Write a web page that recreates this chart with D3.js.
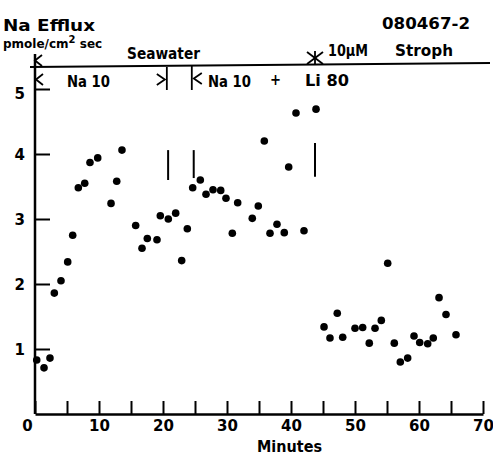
<!DOCTYPE html>
<html>
<head>
<meta charset="utf-8">
<script src="https://cdn.jsdelivr.net/npm/d3@7"></script>
<style>
  body { margin: 0; background: #fff; }
  svg { display: block; }
  text { font-family: "DejaVu Sans", sans-serif; font-weight: bold; fill: #000; }
</style>
</head>
<body>
<div id="chart"></div>
<script>
// Na efflux readings (minutes, pmole/cm2 sec)
const minutes = [0.27, 1.41, 2.34, 3.02, 4.06, 5.11, 5.89, 6.77, 7.77, 8.59, 9.8,
  11.88, 12.77, 13.59, 15.73, 16.72, 17.55, 19.06, 19.58, 20.83, 21.98, 22.92,
  23.8, 24.64, 25.83, 26.72, 27.81, 29.02, 29.84, 30.83, 31.67, 33.95, 34.89,
  35.83, 36.72, 37.81, 38.95, 39.64, 40.78, 42.03, 43.91, 45.16, 46.09, 47.23,
  48.08, 50.0, 51.2, 52.23, 53.13, 54.11, 55.11, 56.14, 57.08, 58.23, 59.22,
  60.11, 61.36, 62.23, 63.13, 64.22, 65.78];
const efflux = [0.83, 0.71, 0.86, 1.86, 2.05, 2.34, 2.75, 3.48, 3.55, 3.87, 3.94,
  3.24, 3.58, 4.06, 2.9, 2.55, 2.7, 2.68, 3.05, 3.0, 3.09, 2.36,
  2.85, 3.48, 3.6, 3.38, 3.45, 3.44, 3.32, 2.78, 3.25, 3.01, 3.2,
  4.2, 2.78, 2.92, 2.79, 3.8, 4.63, 2.82, 4.69, 1.34, 1.17, 1.55,
  1.18, 1.32, 1.33, 1.09, 1.32, 1.44, 2.32, 1.09, 0.8, 0.86, 1.2,
  1.1, 1.08, 1.17, 1.79, 1.53, 1.22];

// solution change marks drawn in the plot (minute, low, high)
const changeBarT = [20.8, 24.8, 43.75];
const changeBarLo = [3.6, 3.63, 3.65];
const changeBarHi = [4.06, 4.06, 4.17];

const xTicks = [0, 5, 10, 15, 20, 25, 30, 35, 40, 45, 50, 55, 60, 65, 70];
const yTicks = [1, 2, 3, 4, 5];

const width = 493, height = 457;

const x = d3.scaleLinear().domain([0, 70]).range([35, 483]);
const y = d3.scaleLinear().domain([0, 5]).range([414, 89]);

const svg = d3.select('#chart').append('svg')
  .attr('width', width)
  .attr('height', height);

svg.append('rect').attr('width', width).attr('height', height).attr('fill', '#fff');

// x axis
const xAxis = svg.append('g')
  .attr('transform', 'translate(0,' + y(0) + ')')
  .call(d3.axisBottom(x)
    .tickValues(xTicks)
    .tickSizeInner(-13)
    .tickSizeOuter(0)
    .tickPadding(6)
    .tickFormat(d => d % 10 === 0 ? d : ''));
xAxis.select('.domain').attr('stroke', '#000').attr('stroke-width', 2.5);
xAxis.selectAll('.tick line').attr('stroke', '#000').attr('stroke-width', 2);
xAxis.selectAll('.tick text')
  .attr('font-family', '"DejaVu Sans", sans-serif')
  .attr('font-size', 15)
  .attr('font-weight', 'bold')
  .attr('dx', d => d === 0 ? -8 : 0);

// y axis
const yAxis = svg.append('g')
  .attr('transform', 'translate(' + x(0) + ',0)')
  .call(d3.axisLeft(y)
    .tickValues(yTicks)
    .tickFormat(d3.format('d'))
    .tickSizeInner(-15)
    .tickSizeOuter(0)
    .tickPadding(10));
yAxis.select('.domain').remove();
yAxis.selectAll('.tick line').attr('stroke', '#000').attr('stroke-width', 2);
yAxis.selectAll('.tick text')
  .attr('font-family', '"DejaVu Sans", sans-serif')
  .attr('font-size', 15)
  .attr('font-weight', 'bold')
  .attr('dy', d => d === 5 ? '0.65em' : '0.35em');

svg.append('line')
  .attr('x1', x(0)).attr('x2', x(0))
  .attr('y1', y(0)).attr('y2', 54)
  .attr('stroke', '#000').attr('stroke-width', 2.5);

// header line for the bath solutions
svg.append('line')
  .attr('x1', 30).attr('y1', 67)
  .attr('x2', 490).attr('y2', 63)
  .attr('stroke', '#000').attr('stroke-width', 2);

const mark = svg.append('g').attr('fill', 'none').attr('stroke', '#000').attr('stroke-width', 1.8);
// "<" above and below the line at time 0
mark.append('path').attr('d', `M${x(0) + 7},55 L${x(0)},60.5 L${x(0) + 7},66`);
mark.append('path').attr('d', `M${x(0) + 8},74 L${x(0) + 1},79.5 L${x(0) + 8},85`);
// ">|" end of first Na 10 period
const t1 = x(20.6), t2 = x(24.5);
mark.append('path').attr('d', `M${t1 - 10},74 L${t1 - 2},79.5 L${t1 - 10},85`);
mark.append('line').attr('x1', t1).attr('x2', t1).attr('y1', 67).attr('y2', 90);
// "|<" start of second Na 10 period
mark.append('line').attr('x1', t2).attr('x2', t2).attr('y1', 66).attr('y2', 90);
mark.append('path').attr('d', `M${t2 + 10},73 L${t2 + 2},78.5 L${t2 + 10},84`);
// star for strophanthidin
const ts = x(43.75);
[[-8, -6, 8, 6], [-8, 6, 8, -6], [0, -7, 0, 7]].forEach(s => {
  mark.append('line')
    .attr('x1', ts + s[0]).attr('y1', 58 + s[1])
    .attr('x2', ts + s[2]).attr('y2', 58 + s[3]);
});

// change bars
svg.append('g').selectAll('line')
  .data(changeBarT)
  .join('line')
  .attr('x1', d => x(d)).attr('x2', d => x(d))
  .attr('y1', (d, i) => y(changeBarHi[i]))
  .attr('y2', (d, i) => y(changeBarLo[i]))
  .attr('stroke', '#000').attr('stroke-width', 2);

// points
svg.append('g').selectAll('circle')
  .data(minutes)
  .join('circle')
  .attr('cx', d => x(d))
  .attr('cy', (d, i) => y(efflux[i]))
  .attr('r', 3.8)
  .attr('fill', '#000');

// labels
function label(txt, tx, ty, size, len) {
  const t = svg.append('text')
    .attr('x', tx).attr('y', ty)
    .attr('font-size', size)
    .text(txt);
  if (len) t.attr('textLength', len).attr('lengthAdjust', 'spacingAndGlyphs');
  return t;
}
label('Na Efflux', 3, 31, 16, 92);
const unit = svg.append('text').attr('x', 3).attr('y', 48).attr('font-size', 12);
unit.append('tspan').text('pmole/cm');
unit.append('tspan').attr('dy', -5).attr('font-size', 10).text('2');
unit.append('tspan').attr('dy', 5).text(' sec');
label('Seawater', 127, 59, 15, 73);
label('080467-2', 382, 29, 16, 88);
label('10\u00b5M', 328, 56, 15, 40);
label('Stroph', 395, 56, 15, 58);
label('Na 10', 67, 87, 15, 43);
label('Na 10', 208, 87, 15, 43);
label('+', 270, 85, 16, 11);
label('Li 80', 305, 86, 15, 44);
label('Minutes', 257, 452, 15, 65);
</script>
</body>
</html>
